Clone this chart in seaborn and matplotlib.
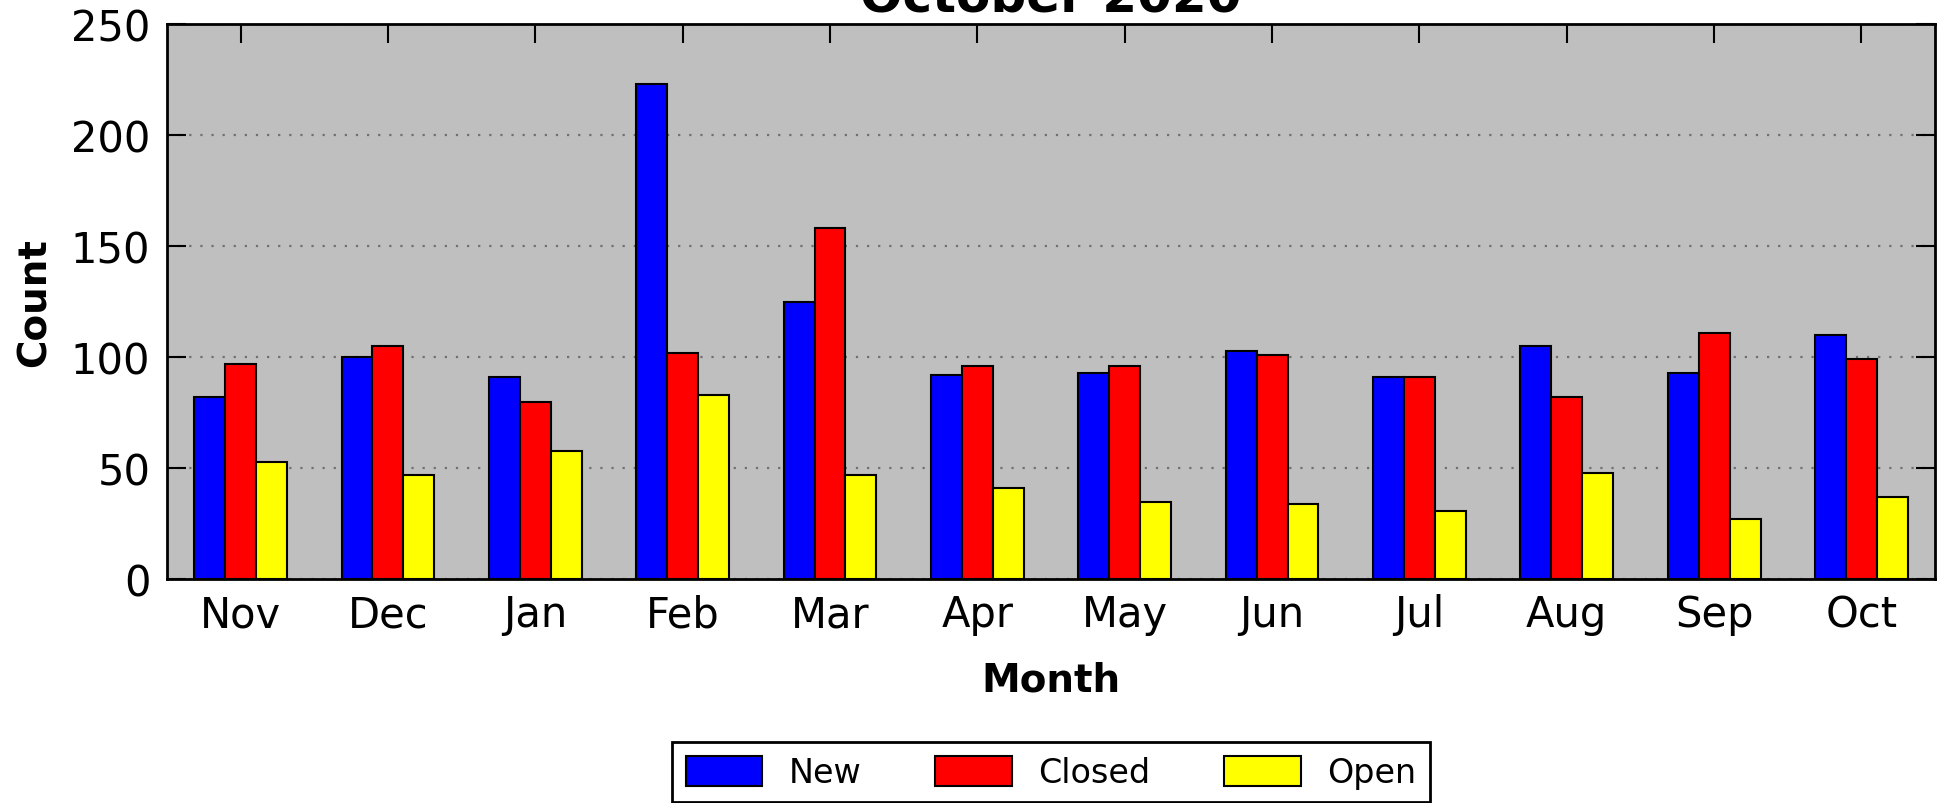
import pandas as pd
import matplotlib
matplotlib.use('Agg')
import matplotlib.pyplot as plt
import seaborn as sns


months = ['Nov', 'Dec', 'Jan', 'Feb', 'Mar', 'Apr', 'May', 'Jun', 'Jul', 'Aug', 'Sep', 'Oct']
new = [82, 100, 91, 223, 125, 92, 93, 103, 91, 105, 93, 110]
closed = [97, 105, 80, 102, 158, 96, 96, 101, 91, 82, 111, 99]
open_ = [53, 47, 58, 83, 47, 41, 35, 34, 31, 48, 27, 37]
statuses = ['New', 'Closed', 'Open']
colors = {'New': 'blue', 'Closed': 'red', 'Open': 'yellow'}
y_ticks = [0, 50, 100, 150, 200, 250]


def build_frame():
    """Stack the three series into one long table for seaborn."""
    rows = []
    for series, name in zip([new, closed, open_], statuses):
        for m, v in zip(months, series):
            rows.append({'Month': m, 'Count': v, 'Status': name})
    return pd.DataFrame(rows)


def plot_monthly_counts(df):
    sns.set_style('ticks', {
        'axes.facecolor': '#bfbfbf',
        'axes.edgecolor': 'black',
        'axes.labelcolor': 'black',
        'text.color': 'black',
        'xtick.color': 'black',
        'ytick.color': 'black',
        'xtick.direction': 'in',
        'ytick.direction': 'in',
    })
    plt.rcParams['font.family'] = ['DejaVu Sans']

    fig = plt.figure(figsize=(19.41, 8.04), dpi=100)
    ax = fig.add_axes([0.086, 0.278, 0.911, 0.691])

    sns.barplot(data=df, x='Month', y='Count', hue='Status', order=months,
                hue_order=statuses, palette=colors, width=0.63, gap=0,
                edgecolor='black', linewidth=1.5, saturation=1,
                legend=False, ax=ax)

    ax.set_xlim(-0.5, len(months) - 0.5)
    ax.set_ylim(0, 250)
    ax.set_yticks(y_ticks)

    # dotted horizontal grid like the old classic style
    ax.yaxis.grid(True, color='#707070', linestyle=(0, (1, 4)), linewidth=1.6)
    ax.xaxis.grid(False)
    ax.set_axisbelow(True)

    for s in ax.spines.values():
        s.set_linewidth(2)
        s.set_visible(True)

    ax.tick_params(axis='both', which='major', labelsize=30, length=14,
                   width=1.5, top=True, right=True, direction='in',
                   colors='black')
    ax.tick_params(axis='x', pad=10)
    ax.tick_params(axis='y', pad=12)

    ax.set_xlabel('Month', fontsize=28, fontweight='bold', labelpad=18)
    ax.set_ylabel('Count', fontsize=28, fontweight='bold', labelpad=12)
    ax.set_title('October 2020', fontsize=36, fontweight='bold', pad=10)

    handles = [plt.Rectangle((0, 0), 1, 1, facecolor=colors[s], edgecolor='black',
                             linewidth=1.5) for s in statuses]
    leg = fig.legend(handles, statuses, loc='upper center', ncol=3,
                     bbox_to_anchor=(0.5415, 0.096), fontsize=24,
                     fancybox=False, framealpha=1, facecolor='white',
                     edgecolor='black',
                     handlelength=2.3, handleheight=1.0, handletextpad=0.8,
                     columnspacing=2.2, borderpad=0.4)
    leg.get_frame().set_linewidth(2)

    fig.savefig('out.png', dpi=100)


def main():
    df = build_frame()
    plot_monthly_counts(df)


if __name__ == "__main__":
    main()
